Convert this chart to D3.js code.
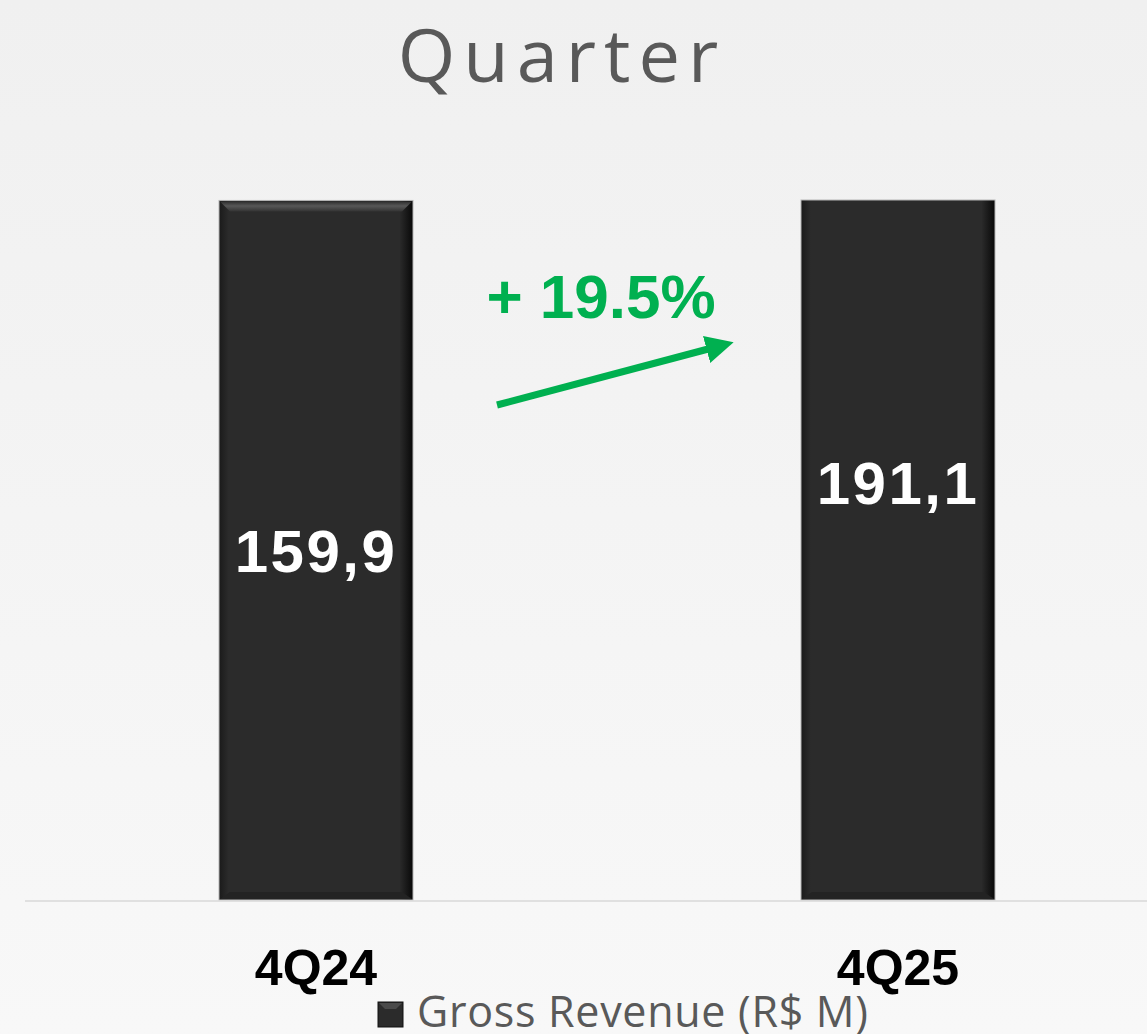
<!DOCTYPE html>
<html>
<head>
<meta charset="utf-8">
<script src="https://cdn.jsdelivr.net/npm/d3@7"></script>
<style>
  html, body { margin: 0; padding: 0; overflow: hidden; }
  body { width: 1147px; height: 1034px; }
</style>
</head>
<body>
<div id="chart"></div>
<script>
// data
var quarters = ["4Q24", "4Q25"];
var revenue = [159.9, 191.1];
var valueLabels = ["159,9", "191,1"];
var growthLabel = "+ 19.5%";
var legendLabel = "Gross Revenue (R$ M)";
var titleText = "Quarter";
var axisMax = 160;

var W = 1147, H = 1034;
var margin = {top: 200, bottom: 134, left: 25};

var svg = d3.select("#chart").append("svg")
    .attr("width", W)
    .attr("height", H);

var defs = svg.append("defs");

// background gradient
var bg = defs.append("linearGradient").attr("id", "bg")
    .attr("x1", 0).attr("y1", 0).attr("x2", 0).attr("y2", 1);
bg.append("stop").attr("offset", "0%").attr("stop-color", "#f0f0f0");
bg.append("stop").attr("offset", "100%").attr("stop-color", "#f8f8f8");

// bar side shading
var side = defs.append("linearGradient").attr("id", "barSide")
    .attr("x1", 0).attr("y1", 0).attr("x2", 1).attr("y2", 0);
side.append("stop").attr("offset", "0%").attr("stop-color", "#1a1a1a");
side.append("stop").attr("offset", "5%").attr("stop-color", "#2b2b2b");
side.append("stop").attr("offset", "93%").attr("stop-color", "#2b2b2b");
side.append("stop").attr("offset", "100%").attr("stop-color", "#080808");

// top bevel shading
var bevel = defs.append("linearGradient").attr("id", "bevel")
    .attr("x1", 0).attr("y1", 0).attr("x2", 0).attr("y2", 1);
bevel.append("stop").attr("offset", "0%").attr("stop-color", "#2e2e2e");
bevel.append("stop").attr("offset", "45%").attr("stop-color", "#575757");
bevel.append("stop").attr("offset", "100%").attr("stop-color", "#333333");

svg.append("rect").attr("width", W).attr("height", H).attr("fill", "url(#bg)");

// scales
var x = d3.scaleBand()
    .domain(quarters)
    .range([margin.left, 1189])
    .paddingInner(2 / 3)
    .paddingOuter(1 / 3);

var y = d3.scaleLinear()
    .domain([0, axisMax])
    .range([H - margin.bottom, margin.top]);

var yBar = y.copy().clamp(true);

// title
svg.append("text")
    .attr("x", 562)
    .attr("y", 82)
    .attr("text-anchor", "middle")
    .style("font-family", "'Open Sans', sans-serif")
    .style("font-size", "74px")
    .style("letter-spacing", "8px")
    .attr("fill", "#595959")
    .text(titleText);

// bars
var bars = svg.selectAll("g.bar")
    .data(quarters)
    .enter().append("g")
    .attr("class", "bar");

bars.append("rect")
    .attr("x", d => x(d))
    .attr("y", (d, i) => yBar(revenue[i]))
    .attr("width", x.bandwidth())
    .attr("height", (d, i) => y(0) - yBar(revenue[i]))
    .attr("fill", "url(#barSide)")
    .attr("stroke", "#b5b5b5")
    .attr("stroke-width", 1);

// top bevel only for bars that are not cut by the axis max
bars.filter((d, i) => revenue[i] <= axisMax)
    .append("path")
    .attr("d", (d, i) => {
        var x0 = x(d), x1 = x(d) + x.bandwidth(), t = yBar(revenue[i]);
        return `M${x0 + 1},${t + 1}L${x1 - 1},${t + 1}L${x1 - 11},${t + 11}L${x0 + 11},${t + 11}Z`;
    })
    .attr("fill", "url(#bevel)");

// bottom bevel
bars.append("path")
    .attr("d", d => {
        var x0 = x(d), x1 = x(d) + x.bandwidth(), b = y(0);
        return `M${x0 + 1},${b - 1}L${x1 - 1},${b - 1}L${x1 - 11},${b - 8}L${x0 + 11},${b - 8}Z`;
    })
    .attr("fill", "#232323");

// value labels centred in the unclipped bar
bars.append("text")
    .attr("x", d => x(d) + x.bandwidth() / 2)
    .attr("y", (d, i) => y(revenue[i] / 2))
    .attr("dy", "0.36em")
    .attr("text-anchor", "middle")
    .style("font-family", "'Liberation Sans', Arial, sans-serif")
    .style("font-weight", "bold")
    .style("font-size", "60px")
    .style("letter-spacing", "2.5px")
    .attr("fill", "#ffffff")
    .text((d, i) => valueLabels[i]);

// baseline
svg.append("line")
    .attr("x1", margin.left)
    .attr("x2", W)
    .attr("y1", y(0) + 1)
    .attr("y2", y(0) + 1)
    .attr("stroke", "#d9d9d9")
    .attr("stroke-width", 1.5);

// category axis
var xAxis = svg.append("g")
    .attr("transform", `translate(0, ${y(0)})`)
    .call(d3.axisBottom(x).tickSize(0).tickPadding(0));
xAxis.select(".domain").remove();
xAxis.selectAll("text")
    .attr("y", 85)
    .attr("dy", 0)
    .style("font-family", "'Liberation Sans', Arial, sans-serif")
    .style("font-weight", "bold")
    .style("font-size", "50px")
    .attr("fill", "#000000");

// growth arrow
defs.append("marker")
    .attr("id", "arrowHead")
    .attr("viewBox", "0 0 10 10")
    .attr("refX", 2)
    .attr("refY", 5)
    .attr("markerWidth", 4)
    .attr("markerHeight", 4)
    .attr("orient", "auto")
    .append("path")
    .attr("d", "M0,0L10,5L0,10Z")
    .attr("fill", "#00b050");

svg.append("line")
    .attr("x1", 497)
    .attr("y1", 405)
    .attr("x2", 712)
    .attr("y2", 348)
    .attr("stroke", "#00b050")
    .attr("stroke-width", 7)
    .attr("marker-end", "url(#arrowHead)");

svg.append("text")
    .attr("x", 601)
    .attr("y", 318)
    .attr("text-anchor", "middle")
    .style("font-family", "'Liberation Sans', Arial, sans-serif")
    .style("font-weight", "bold")
    .style("font-size", "62px")
    .attr("fill", "#00b050")
    .text(growthLabel);

// legend
var legend = svg.append("g").attr("transform", "translate(378, 1002)");
legend.append("rect")
    .attr("width", 25)
    .attr("height", 25)
    .attr("fill", "#2b2b2b")
    .attr("stroke", "#111")
    .attr("stroke-width", 1);
legend.append("path")
    .attr("d", "M1,1L24,1L18,7L7,7Z")
    .attr("fill", "#4a4a4a");
legend.append("text")
    .attr("x", 39)
    .attr("y", 25)
    .style("font-family", "'Open Sans', sans-serif")
    .style("font-size", "43px")
    .style("letter-spacing", "0.7px")
    .attr("fill", "#595959")
    .text(legendLabel);
</script>
</body>
</html>
